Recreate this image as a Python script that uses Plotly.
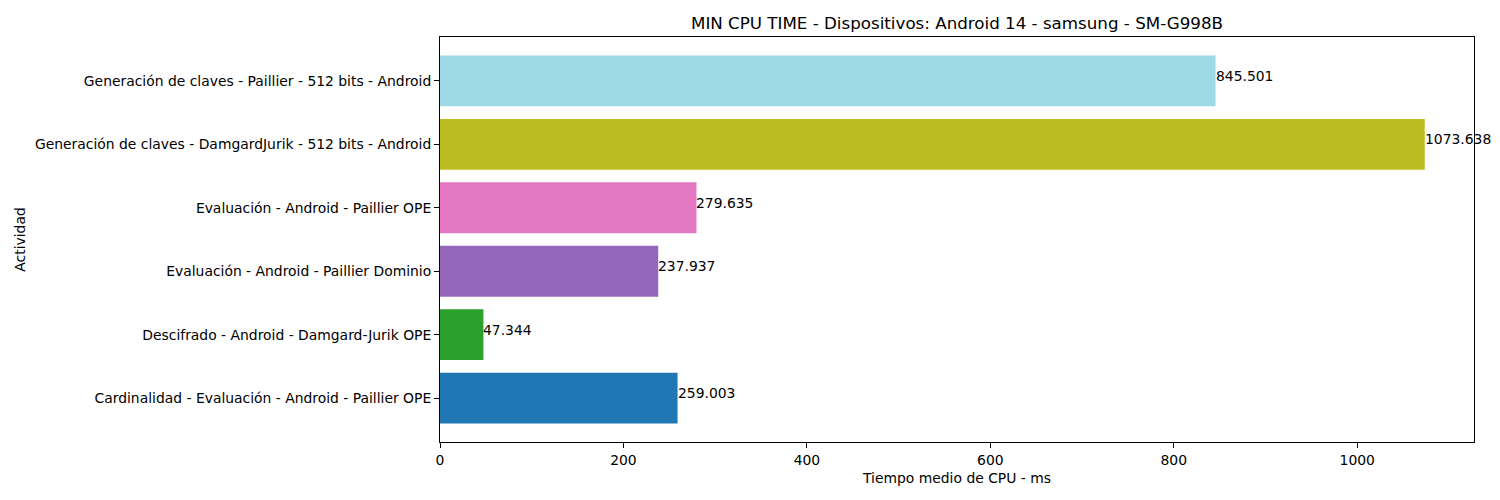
import plotly.graph_objects as go

# Datos (de abajo hacia arriba)
actividades = [
    "Cardinalidad - Evaluación - Android - Paillier OPE",
    "Descifrado - Android - Damgard-Jurik OPE",
    "Evaluación - Android - Paillier Dominio",
    "Evaluación - Android - Paillier OPE",
    "Generación de claves - DamgardJurik - 512 bits - Android",
    "Generación de claves - Paillier - 512 bits - Android",
]
tiempos = [259.003, 47.344, 237.937, 279.635, 1073.638, 845.501]
colores = ["#1f77b4", "#2ca02c", "#9467bd", "#e377c2", "#bcbd22", "#9edae5"]

posiciones = list(range(len(actividades)))

# la pagina deja 8px de margen en el body, se compensa aqui
W, H = 1492, 492

fig = go.Figure()
fig.add_trace(go.Bar(
    x=tiempos,
    y=posiciones,
    orientation="h",
    width=0.8,
    marker=dict(color=colores, line=dict(width=0)),
    hoverinfo="x+y",
))

for i, t in enumerate(tiempos):
    fig.add_annotation(
        x=t, y=i, text=f"{t:.3f}", showarrow=False,
        xanchor="left", yanchor="bottom", yshift=-5, xshift=-2,
        font=dict(size=13.9, color="black"),
    )

eje = dict(
    showline=True, linecolor="black", linewidth=1, mirror=True,
    ticks="outside", ticklen=5, tickcolor="black", tickwidth=1,
    showgrid=False, zeroline=False, automargin=False,
    tickfont=dict(size=13.9, color="black"),
)

xmax = max(tiempos) * 1.05
fig.update_layout(
    width=W, height=H,
    margin=dict(l=432, r=26, t=29, b=58),
    plot_bgcolor="white", paper_bgcolor="white",
    font=dict(family="DejaVu Sans", size=13.9, color="black"),
    showlegend=False,
    title=dict(
        text="MIN CPU TIME - Dispositivos: Android 14 - samsung - SM-G998B",
        x=(432 + W - 26) / 2 / W, xanchor="center",
        y=1 - 15 / H, yanchor="middle",
        font=dict(size=16.7, color="black"),
    ),
    xaxis=dict(
        eje, range=[0, xmax], tickvals=[0, 200, 400, 600, 800, 1000],
        title=dict(text="Tiempo medio de CPU - ms", font=dict(size=13.9), standoff=6),
    ),
    yaxis=dict(
        eje, range=[-0.69, len(actividades) - 1 + 0.69],
        tickvals=posiciones, ticktext=actividades,
        title=dict(text="Actividad", font=dict(size=13.9), standoff=6),
    ),
)

fig.write_html("out.html")
